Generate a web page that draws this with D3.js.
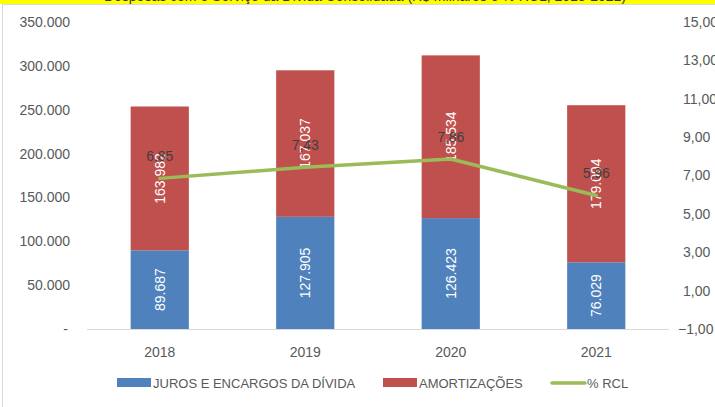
<!DOCTYPE html>
<html>
<head>
<meta charset="utf-8">
<script src="https://cdn.jsdelivr.net/npm/d3@7"></script>
<style>
  body { margin: 0; background: #fff; }
  svg { display: block; font-family: "Liberation Sans", Arial, sans-serif; }
</style>
</head>
<body>
<svg id="chart" width="715" height="407"></svg>
<script>
// chart values
var years = ["2018", "2019", "2020", "2021"];
var juros = [89687, 127905, 126423, 76029];
var amortizacoes = [163982, 167037, 185534, 179094];
var rcl = [6.85, 7.43, 7.86, 5.96];
var leftTicks = [0, 50000, 100000, 150000, 200000, 250000, 300000, 350000];
var rightTicks = [-1, 1, 3, 5, 7, 9, 11, 13, 15];
var seriesNames = ["JUROS E ENCARGOS DA DÍVIDA", "AMORTIZAÇÕES", "% RCL"];

var colors = { juros: "#4F81BD", amort: "#C0504D", rcl: "#9BBB59", text: "#595959" };
var plot = { left: 87, right: 669, top: 22, bottom: 329 };

var svg = d3.select("#chart");

// yellow title strip, title mostly cut off above the picture
svg.append("rect").attr("x", 0).attr("y", 0).attr("width", 715).attr("height", 4).attr("fill", "#FFFF00");
svg.append("clipPath").attr("id", "tclip").append("rect")
  .attr("x", 0).attr("y", 0).attr("width", 715).attr("height", 4);
svg.append("text")
  .attr("clip-path", "url(#tclip)")
  .attr("x", 365).attr("y", 0.5)
  .attr("text-anchor", "middle")
  .attr("font-size", 14).attr("fill", "#333")
  .text("Despesas com o Serviço da Dívida Consolidada (R$ milhares e % RCL, 2018-2021)");

// chart frame
svg.append("rect").attr("x", 2.5).attr("y", 4.5).attr("width", 720).attr("height", 410)
  .attr("fill", "none").attr("stroke", "#D9D9D9");

var x = d3.scaleBand().domain(years).range([plot.left, plot.right])
  .paddingInner(0.6).paddingOuter(0.3);
var y = d3.scaleLinear().domain([0, 350000]).range([plot.bottom, plot.top]);
var y2 = d3.scaleLinear().domain([-1, 15]).range([plot.bottom, plot.top]);

var fmtInt = d3.formatLocale({ decimal: ",", thousands: ".", grouping: [3], currency: ["R$", ""] });
var fmtK = fmtInt.format(",.0f");
var fmt2 = fmtInt.format(",.2f");

// left axis
var leftAxis = svg.append("g").attr("transform", "translate(70,0)")
  .call(d3.axisLeft(y).tickValues(leftTicks).tickSize(0).tickPadding(0)
    .tickFormat(function(d){ return d === 0 ? "-" : fmtK(d); }));
leftAxis.select(".domain").remove();
leftAxis.selectAll("text").attr("font-size", 14).attr("fill", colors.text)
  .attr("font-family", "Liberation Sans, Arial, sans-serif");
leftAxis.selectAll(".tick").filter(function(d){ return d === 0; }).select("text").attr("dx", -2);

// right axis (cut off at the right edge as in the original)
var rightAxis = svg.append("g").attr("transform", "translate(683,0)")
  .call(d3.axisRight(y2).tickValues(rightTicks).tickSize(0).tickPadding(0).tickFormat(fmt2));
rightAxis.select(".domain").remove();
rightAxis.selectAll("text").attr("font-size", 14).attr("fill", colors.text)
  .attr("font-family", "Liberation Sans, Arial, sans-serif");
rightAxis.selectAll(".tick").filter(function(d){ return d < 0; }).select("text").attr("dx", -5);

// bars
var g = svg.append("g");
g.selectAll(".juros").data(years).enter().append("rect")
  .attr("x", function(d){ return x(d); })
  .attr("width", x.bandwidth())
  .attr("y", function(d, i){ return y(juros[i]); })
  .attr("height", function(d, i){ return y(0) - y(juros[i]); })
  .attr("fill", colors.juros);
g.selectAll(".amort").data(years).enter().append("rect")
  .attr("x", function(d){ return x(d); })
  .attr("width", x.bandwidth())
  .attr("y", function(d, i){ return y(juros[i] + amortizacoes[i]); })
  .attr("height", function(d, i){ return y(juros[i]) - y(juros[i] + amortizacoes[i]); })
  .attr("fill", colors.amort);

// x axis line
svg.append("line").attr("x1", plot.left).attr("x2", plot.right)
  .attr("y1", plot.bottom + 0.5).attr("y2", plot.bottom + 0.5)
  .attr("stroke", "#D9D9D9").attr("stroke-width", 1);

// category labels
svg.selectAll(".cat").data(years).enter().append("text")
  .attr("x", function(d){ return x(d) + x.bandwidth() / 2; })
  .attr("y", 357)
  .attr("text-anchor", "middle").attr("font-size", 14).attr("fill", colors.text)
  .text(function(d){ return d; });

// bar value labels (rotated, white)
function barLabel(vals, base) {
  svg.selectAll(null).data(years).enter().append("text")
    .attr("transform", function(d, i){
      var cx = x(d) + x.bandwidth() / 2;
      var cy = y(base[i] + vals[i] / 2);
      return "translate(" + (cx + 5) + "," + cy + ") rotate(-90)";
    })
    .attr("text-anchor", "middle").attr("font-size", 14).attr("fill", "#fff")
    .text(function(d, i){ return fmtK(vals[i]); });
}
barLabel(juros, [0, 0, 0, 0]);
barLabel(amortizacoes, juros);

// % RCL line
var line = d3.line()
  .x(function(d, i){ return x(years[i]) + x.bandwidth() / 2; })
  .y(function(d){ return y2(d); });
svg.append("path").datum(rcl).attr("d", line)
  .attr("fill", "none").attr("stroke", colors.rcl).attr("stroke-width", 3.5)
  .attr("stroke-linejoin", "round").attr("stroke-linecap", "round");

svg.selectAll(".rclLabel").data(rcl).enter().append("text")
  .attr("x", function(d, i){ return x(years[i]) + x.bandwidth() / 2; })
  .attr("y", function(d){ return y2(d) - 17; })
  .attr("text-anchor", "middle").attr("font-size", 14).attr("fill", "#404040")
  .text(function(d){ return fmt2(d); });

// legend
var legend = svg.append("g").attr("transform", "translate(0,383)");
var legendItems = [
  { name: seriesNames[0], color: colors.juros, type: "rect", x: 117 },
  { name: seriesNames[1], color: colors.amort, type: "rect", x: 383 },
  { name: seriesNames[2], color: colors.rcl, type: "line", x: 551 }
];
legendItems.forEach(function(it){
  if (it.type === "rect") {
    legend.append("rect").attr("x", it.x).attr("y", -5).attr("width", 34).attr("height", 9).attr("fill", it.color);
  } else {
    legend.append("line").attr("x1", it.x + 1).attr("x2", it.x + 34).attr("y1", 0).attr("y2", 0)
      .attr("stroke", it.color).attr("stroke-width", 3.5).attr("stroke-linecap", "round");
  }
  legend.append("text").attr("x", it.x + 36).attr("y", 5)
    .attr("font-size", 13).attr("fill", colors.text).text(it.name);
});
</script>
</body>
</html>
